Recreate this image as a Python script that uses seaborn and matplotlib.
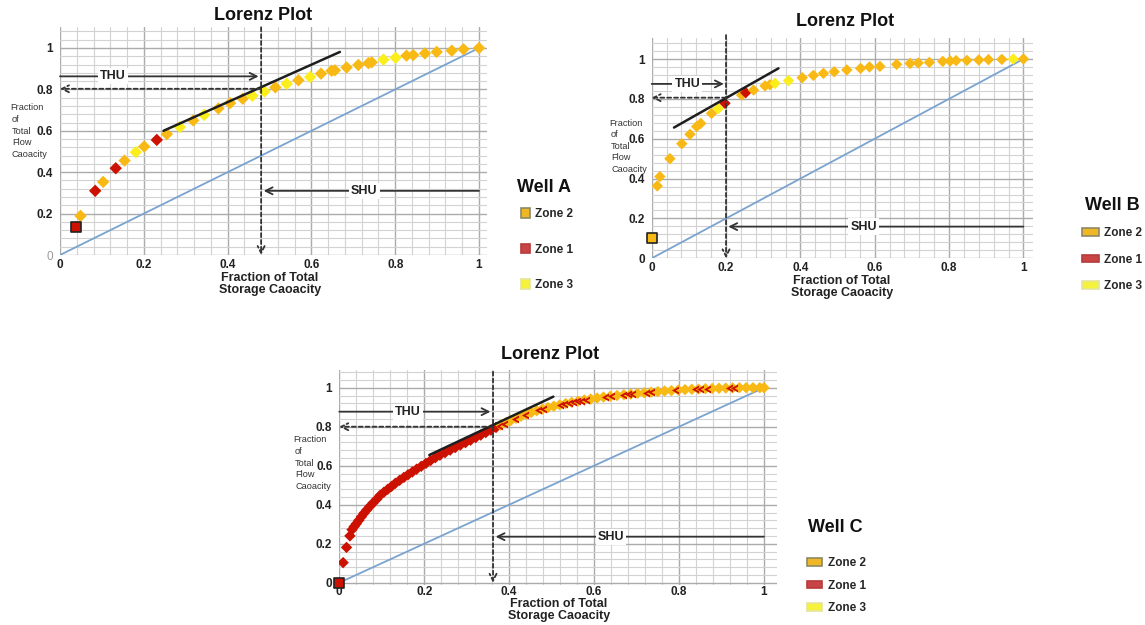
import numpy as np
import pandas as pd
import matplotlib
matplotlib.use("Agg")
import matplotlib.pyplot as plt
from matplotlib.patches import Patch
from matplotlib.path import Path
from matplotlib.ticker import MultipleLocator
import seaborn as sns

sns.set_style("white")
plt.rcParams['font.family'] = ['Liberation Sans', 'DejaVu Sans']

ZONES = ["Zone 2", "Zone 1", "Zone 3"]
PALETTE = {"Zone 1": "#cc1100", "Zone 2": "#f9b915", "Zone 3": "#fbee1a"}
LEG_FACE = {"Zone 2": "#efb625", "Zone 1": "#c94545", "Zone 3": "#f4f23c"}
LEG_EDGE = {"Zone 2": "#8c8a66", "Zone 1": "#b83a3a", "Zone 3": "#e4e49a"}

tick_vals = [0, 0.2, 0.4, 0.6, 0.8, 1.0]
tick_labels = ["0", "0.2", "0.4", "0.6", "0.8", "1"]
ylabel_lines = ["Fraction", "of", "Total", "Flow", "Caoacity"]
diag_x = [0, 1]
diag_y = [0, 1]

# ---------------- Well A ----------------
a_x = [0.049, 0.084, 0.103, 0.133, 0.154, 0.181, 0.201, 0.231, 0.255, 0.286,
       0.318, 0.344, 0.378, 0.406, 0.436, 0.459, 0.488, 0.514, 0.541, 0.569,
       0.597, 0.623, 0.648, 0.656, 0.684, 0.712, 0.736, 0.744, 0.772, 0.801,
       0.827, 0.843, 0.871, 0.899, 0.935, 0.963, 1.000]
a_y = [0.189, 0.310, 0.353, 0.419, 0.456, 0.497, 0.524, 0.556, 0.584, 0.618,
       0.650, 0.677, 0.708, 0.734, 0.755, 0.769, 0.790, 0.810, 0.827, 0.844,
       0.860, 0.876, 0.890, 0.892, 0.906, 0.918, 0.927, 0.931, 0.944, 0.953,
       0.963, 0.966, 0.974, 0.981, 0.987, 0.994, 1.000]
a_zone = ["Zone 2", "Zone 1", "Zone 2", "Zone 1", "Zone 2", "Zone 3", "Zone 2", "Zone 1", "Zone 2", "Zone 3",
          "Zone 2", "Zone 3", "Zone 2", "Zone 2", "Zone 2", "Zone 3", "Zone 3", "Zone 2", "Zone 3", "Zone 2",
          "Zone 3", "Zone 2", "Zone 2", "Zone 2", "Zone 2", "Zone 2", "Zone 2", "Zone 2", "Zone 3", "Zone 3",
          "Zone 2", "Zone 2", "Zone 2", "Zone 2", "Zone 2", "Zone 2", "Zone 2"]
a_first = ([0.037], [0.134], "Zone 1")
a_tan_x = [0.247, 0.668]
a_tan_y = [0.600, 0.981]
a_cut = dict(x=0.48, y=0.803, thu_y=0.863, thu_tx=0.127, shu_y=0.31, shu_tx=0.726, vtop=1.10)

# ---------------- Well B ----------------
b_x = [0.015, 0.022, 0.049, 0.081, 0.103, 0.121, 0.132, 0.161, 0.179, 0.197,
       0.242, 0.253, 0.274, 0.305, 0.318, 0.332, 0.368, 0.405, 0.435, 0.462,
       0.491, 0.525, 0.562, 0.586, 0.614, 0.659, 0.695, 0.717, 0.747, 0.783,
       0.803, 0.819, 0.848, 0.880, 0.906, 0.942, 0.973, 1.000]
b_y = [0.363, 0.410, 0.500, 0.575, 0.622, 0.661, 0.677, 0.727, 0.751, 0.778,
       0.819, 0.831, 0.844, 0.865, 0.871, 0.878, 0.891, 0.906, 0.918, 0.928,
       0.936, 0.945, 0.953, 0.960, 0.963, 0.973, 0.978, 0.980, 0.983, 0.988,
       0.990, 0.992, 0.993, 0.995, 0.997, 0.998, 1.000, 1.000]
b_zone = ["Zone 2", "Zone 2", "Zone 2", "Zone 2", "Zone 2", "Zone 2", "Zone 2", "Zone 2", "Zone 3", "Zone 1",
          "Zone 2", "Zone 1", "Zone 2", "Zone 2", "Zone 2", "Zone 3", "Zone 3", "Zone 2", "Zone 2", "Zone 2",
          "Zone 2", "Zone 2", "Zone 2", "Zone 2", "Zone 2", "Zone 2", "Zone 2", "Zone 2", "Zone 2", "Zone 2",
          "Zone 2", "Zone 2", "Zone 2", "Zone 2", "Zone 2", "Zone 2", "Zone 3", "Zone 2"]
b_first = ([0.002], [0.102], "Zone 2")
b_tan_x = [0.060, 0.341]
b_tan_y = [0.656, 0.953]
b_cut = dict(x=0.20, y=0.806, thu_y=0.875, thu_tx=0.096, shu_y=0.159, shu_tx=0.57, vtop=1.12)

# ---------------- Well C ----------------
c_x = [0.009, 0.017, 0.025, 0.030, 0.035, 0.040, 0.046, 0.052, 0.058, 0.065,
       0.072, 0.080, 0.088, 0.096, 0.105, 0.114, 0.123, 0.132, 0.142, 0.152,
       0.162, 0.172, 0.182, 0.193, 0.204, 0.215, 0.226, 0.237, 0.249, 0.261,
       0.273, 0.285, 0.297, 0.309, 0.321, 0.333, 0.345, 0.357, 0.369,
       0.380, 0.392, 0.404, 0.416, 0.428, 0.440, 0.452, 0.465, 0.478, 0.491,
       0.505, 0.519, 0.533, 0.547, 0.562, 0.577, 0.592, 0.607, 0.622, 0.638,
       0.654, 0.670, 0.686, 0.702, 0.718, 0.734, 0.750, 0.766, 0.782, 0.798,
       0.814, 0.830, 0.846, 0.862, 0.878, 0.894, 0.910, 0.926, 0.942, 0.958,
       0.974, 0.990, 1.000]
c_y = [0.103, 0.181, 0.240, 0.272, 0.288, 0.302, 0.320, 0.338, 0.356, 0.374,
       0.392, 0.410, 0.428, 0.448, 0.464, 0.479, 0.494, 0.510, 0.525, 0.540,
       0.554, 0.568, 0.582, 0.597, 0.612, 0.627, 0.641, 0.654, 0.667, 0.680,
       0.693, 0.706, 0.718, 0.731, 0.744, 0.757, 0.770, 0.783, 0.796,
       0.808, 0.820, 0.832, 0.843, 0.854, 0.864, 0.873, 0.882, 0.890, 0.898,
       0.905, 0.912, 0.919, 0.925, 0.931, 0.937, 0.942, 0.947, 0.952, 0.956,
       0.960, 0.964, 0.967, 0.971, 0.974, 0.977, 0.980, 0.983, 0.985, 0.988,
       0.990, 0.992, 0.993, 0.995, 0.996, 0.997, 0.998, 0.999, 1.000, 1.000,
       1.000, 1.000, 1.000]
c_zone = ["Zone 1"] * 39 + ["Zone 2"] * 43
c_red_x = [0.375, 0.388, 0.413, 0.437, 0.468, 0.480, 0.520, 0.530,
           0.540, 0.550, 0.560, 0.570, 0.580, 0.625, 0.640, 0.668, 0.680,
           0.690, 0.722, 0.735, 0.790, 0.838, 0.850, 0.865,
           0.918, 0.930]
c_red_y = [0.802, 0.816, 0.840, 0.861, 0.884, 0.891, 0.913, 0.918,
           0.922, 0.926, 0.930, 0.934, 0.938, 0.952, 0.956, 0.963, 0.966,
           0.968, 0.975, 0.977, 0.987, 0.992, 0.994, 0.995,
           0.999, 0.999]
c_first = ([0.0], [0.0], "Zone 1")
c_tan_x = [0.212, 0.504]
c_tan_y = [0.655, 0.954]
c_cut = dict(x=0.362, y=0.80, thu_y=0.877, thu_tx=0.162, shu_y=0.236, shu_tx=0.64, vtop=1.082)

W, H = 1145, 625
fig = plt.figure(figsize=(W / 100, H / 100), dpi=100)


def px_axes(left, top_px_zero, per_x, per_y, xlim, ylim):
    width = (xlim[1] - xlim[0]) * per_x
    height = (ylim[1] - ylim[0]) * per_y
    bottom_px = top_px_zero + (0 - ylim[0]) * per_y
    ax = fig.add_axes([left / W, (H - bottom_px) / H, width / W, height / H])
    ax.set_xlim(*xlim)
    ax.set_ylim(*ylim)
    return ax


chev = Path([(0.9, 1.0), (-0.9, 0.0), (0.9, -1.0), (0.9, -0.45), (0.05, 0.0), (0.9, 0.45), (0.9, 1.0)],
            [Path.MOVETO, Path.LINETO, Path.LINETO, Path.LINETO, Path.LINETO, Path.LINETO, Path.CLOSEPOLY])


def style_axes(ax, xpad, zero_gray=False):
    for s in ax.spines.values():
        s.set_visible(False)
    ax.xaxis.set_minor_locator(MultipleLocator(0.04))
    ax.yaxis.set_minor_locator(MultipleLocator(0.04))
    ax.set_xticks(tick_vals)
    ax.set_yticks(tick_vals)
    ax.set_xticklabels(tick_labels, fontsize=8.5, fontweight='bold', color='#222222')
    ax.set_yticklabels(tick_labels, fontsize=8.5, fontweight='bold', color='#222222')
    if zero_gray:
        ax.get_yticklabels()[0].set_color('#9a9a9a')
        ax.get_yticklabels()[0].set_fontweight('normal')
    ax.grid(True, which='minor', color='#d2d2d2', lw=0.8)
    ax.grid(True, which='major', color='#ababab', lw=1.0)
    ax.set_axisbelow(True)
    ax.tick_params(axis='x', which='both', length=0, pad=xpad)
    ax.tick_params(axis='y', which='major', length=3, color='#999999', pad=2)
    ax.tick_params(axis='y', which='minor', length=0)


def finish(ax):
    ax.set_xlabel("")
    ax.set_ylabel("")


def draw_panel(ax, xs, ys, zones, first, tan_x, tan_y, cut, s=32):
    sns.lineplot(x=diag_x, y=diag_y, ax=ax, color='#7aa3d0', lw=1.3, zorder=2)
    df = pd.DataFrame({"x": xs, "y": ys, "zone": zones})
    sns.scatterplot(data=df, x="x", y="y", hue="zone", palette=PALETTE, marker='D', s=s,
                    linewidth=0, legend=False, ax=ax, zorder=3)
    fx, fy, fz = first
    sns.scatterplot(x=fx, y=fy, color=PALETTE[fz], marker='s', s=55, edgecolor='#222222',
                    linewidth=1.2, legend=False, ax=ax, zorder=4, clip_on=False)
    sns.lineplot(x=tan_x, y=tan_y, ax=ax, color='#1e1e1e', lw=1.8, zorder=5)
    ak = dict(arrowstyle='->,head_length=0.5,head_width=0.25', color='#333333', lw=1.3,
              shrinkA=0, shrinkB=0)
    akd = dict(ak, linestyle=(0, (2.2, 1.6)))
    ax.annotate('', xy=(cut['x'], 0), xytext=(cut['x'], cut['vtop']), arrowprops=akd,
                annotation_clip=False, zorder=6)
    ax.annotate('', xy=(0, cut['y']), xytext=(cut['x'], cut['y']), arrowprops=akd,
                annotation_clip=False, zorder=6)
    ax.annotate('', xy=(cut['x'] - 0.006, cut['thu_y']), xytext=(0, cut['thu_y']), arrowprops=ak,
                annotation_clip=False, zorder=6)
    ax.text(cut['thu_tx'], cut['thu_y'], 'THU', ha='center', va='center', fontsize=9,
            fontweight='bold', color='#222222', zorder=7,
            bbox=dict(facecolor='white', edgecolor='none', pad=1.5))
    ax.annotate('', xy=(cut['x'] + 0.006, cut['shu_y']), xytext=(1.0, cut['shu_y']), arrowprops=ak,
                annotation_clip=False, zorder=6)
    ax.text(cut['shu_tx'], cut['shu_y'], 'SHU', ha='center', va='center', fontsize=9,
            fontweight='bold', color='#222222', zorder=7,
            bbox=dict(facecolor='white', edgecolor='none', pad=1.5))


# Panel A
axA = px_axes(60, 255, 419, 207, (0, 1.02), (0, 1.1))
style_axes(axA, 3, zero_gray=True)
draw_panel(axA, a_x, a_y, a_zone, a_first, a_tan_x, a_tan_y, a_cut, s=40)
finish(axA)

# Panel B
axB = px_axes(651.7, 258.3, 371.7, 199.3, (0, 1.025), (0, 1.105))
style_axes(axB, 3)
draw_panel(axB, b_x, b_y, b_zone, b_first, b_tan_x, b_tan_y, b_cut, s=34)
finish(axB)

# Panel C
axC = px_axes(339.3, 582.7, 424.7, 195, (0, 1.03), (-0.012, 1.09))
style_axes(axC, 1)
draw_panel(axC, c_x, c_y, c_zone, c_first, c_tan_x, c_tan_y, c_cut, s=34)
sns.scatterplot(x=c_red_x, y=c_red_y, color=PALETTE["Zone 1"], marker=chev, s=32, linewidth=0,
                legend=False, ax=axC, zorder=3.5)
finish(axC)

# Titles and labels
for cx, cy in [(263, 16), (845, 22), (550, 355)]:
    fig.text(cx / W, 1 - cy / H, "Lorenz Plot", ha='center', va='center', fontsize=13,
             fontweight='bold', color='#111111')
for cx, cy in [(270, 284), (842, 287), (559, 610)]:
    fig.text(cx / W, 1 - cy / H, "Fraction of Total\nStorage Caoacity", ha='center', va='center',
             fontsize=9, fontweight='bold', color='#222222', linespacing=1.05)
for lx, cy0 in [(10, 108), (609, 123), (293, 440)]:
    for i, line in enumerate(ylabel_lines):
        fig.text((lx + (0 if i == 0 else 2)) / W, 1 - (cy0 + i * 11.6) / H, line, ha='left',
                 va='center', fontsize=6.6, color='#333333')


def well_legend(title, tx, ty, x, y, hl, hh, spacing):
    fig.text(tx / W, 1 - ty / H, title, ha='center', va='center', fontsize=13,
             fontweight='bold', color='#111111')
    handles = [Patch(facecolor=LEG_FACE[z], edgecolor=LEG_EDGE[z], lw=1.2, label=z) for z in ZONES]
    fig.legend(handles=handles, loc='upper left', bbox_to_anchor=(x / W, 1 - y / H),
               frameon=False, prop=dict(size=8.5, weight='bold'), handlelength=hl,
               handleheight=hh, labelspacing=spacing, handletextpad=0.45, borderpad=0,
               borderaxespad=0)


well_legend("Well A", 544, 187, 521, 208, 0.75, 0.9, 2.0)
well_legend("Well B", 1112, 205, 1082, 227, 1.4, 0.6, 1.23)
well_legend("Well C", 835, 528, 807, 557, 1.3, 0.6, 0.9)

fig.savefig("out.png", dpi=100)
